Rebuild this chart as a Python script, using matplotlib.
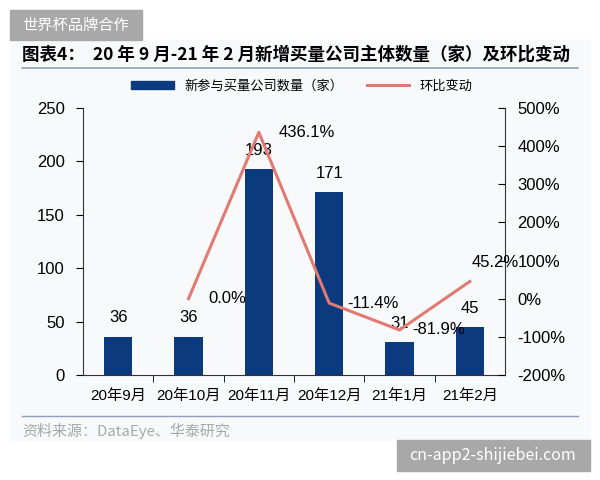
import matplotlib
matplotlib.use("Agg")
import matplotlib.pyplot as plt
from matplotlib.patches import Rectangle
from matplotlib.lines import Line2D

plt.rcParams['font.family'] = ['Liberation Sans', 'Noto Sans CJK SC', 'DejaVu Sans']

months = ["20年9月", "20年10月", "20年11月", "20年12月", "21年1月", "21年2月"]
counts = [36, 36, 193, 171, 31, 45]
mom = [0.0, 436.1, -11.4, -81.9, 45.2]   # 20年10月 .. 21年2月

BAR = "#0b3a7e"
LINE = "#e07a72"
RULE = "#8fa0b8"
CJK = ['Noto Sans CJK SC', 'DejaVu Sans']

fig = plt.figure(figsize=(6, 4.8), dpi=100)

# light panel behind the chart
fig.patches.append(Rectangle((10 / 600, 40 / 480), 580 / 600, 400 / 480,
                             transform=fig.transFigure, color="#f8f9fb",
                             zorder=-10))

ax = fig.add_axes([83 / 600, 1 - 375 / 480, 422 / 600, 267 / 480])
ax.set_facecolor("none")
x = range(len(months))
ax.bar(x, counts, width=0.4, color=BAR, zorder=2)
for i, c in zip(x, counts):
    ax.annotate(str(c), (i, c), xytext=(0, 8), textcoords="offset points",
                ha="center", va="bottom", fontsize=12)
ax.set_ylim(0, 250)
ax.set_xlim(-0.5, len(months) - 0.5)
ax.set_yticks([0, 50, 100, 150, 200, 250])
ax.set_xticks(x)
ax.set_xticklabels(months, fontsize=11)
ax.set_xticks([i + 0.5 for i in range(len(months) - 1)], minor=True)
ax.tick_params(axis="x", which="major", length=0, pad=10)
ax.tick_params(axis="x", which="minor", length=5, direction="out")
ax.tick_params(axis="y", length=5, direction="out", labelsize=12, pad=8)
for s in ["top", "right"]:
    ax.spines[s].set_visible(False)
ax.spines["left"].set_color("#333333")
ax.spines["bottom"].set_color("#333333")

ax2 = ax.twinx()
ax2.plot(range(1, len(months)), mom, color=LINE, lw=2.2, zorder=3)
ax2.set_ylim(-200, 500)
ax2.set_yticks(range(-200, 501, 100))
ax2.set_yticklabels([f"{v}%" for v in range(-200, 501, 100)])
ax2.tick_params(axis="y", length=5, direction="in", labelsize=12, pad=9)
for s in ["top", "left", "bottom"]:
    ax2.spines[s].set_visible(False)
ax2.spines["right"].set_color("#333333")

offsets = [(14, 0), (14, 0), (13, 0), (9, 0), (1, 14)]
for i, (v, (dx, dy)) in enumerate(zip(mom, offsets), start=1):
    ax2.annotate(f"{v:.1f}%", (i, v), xytext=(dx, dy),
                 textcoords="offset points", ha="left", va="center",
                 fontsize=12)

# legend
handles = [Rectangle((0, 0), 1, 1, color=BAR),
           Line2D([0], [0], color=LINE, lw=2.2)]
fig.legend(handles, ["新参与买量公司数量（家）", "环比变动"],
           loc="center", bbox_to_anchor=(302 / 600, 1 - 86 / 480), ncol=2,
           frameon=False, prop={"family": CJK, "size": 9.5},
           handlelength=3.2, handleheight=0.5, columnspacing=1.8)

# title and rules
fig.text(22 / 600, 1 - 55 / 480,
         "图表4：  20 年 9 月-21 年 2 月新增买量公司主体数量（家）及环比变动",
         fontsize=12.6, fontweight="bold", va="center", ha="left",
         family=CJK)
fig.add_artist(Line2D([22 / 600, 578 / 600], [1 - 68 / 480] * 2,
                      color=RULE, lw=1.2))
fig.add_artist(Line2D([22 / 600, 578 / 600], [1 - 416 / 480] * 2,
                      color=RULE, lw=1.0))
fig.text(22 / 600, 1 - 431 / 480, "资料来源：DataEye、华泰研究",
         fontsize=10.8, color="#a8a8a8", va="center", ha="left", family=CJK)

# watermarks
fig.patches.append(Rectangle((10 / 600, 1 - 40 / 480), 132 / 600, 30 / 480,
                             transform=fig.transFigure, color="#a8a8a8"))
fig.text(76 / 600, 1 - 25 / 480, "世界杯品牌合作", color="white",
         fontsize=11, ha="center", va="center", family=CJK)
fig.patches.append(Rectangle((397 / 600, 1 - 471 / 480), 193 / 600, 31 / 480,
                             transform=fig.transFigure, color="#a8a8a8"))
fig.text(493 / 600, 1 - 455 / 480, "cn-app2-shijiebei.com", color="white",
         fontsize=11.5, ha="center", va="center", family=CJK)

fig.savefig("out.png", dpi=100)
